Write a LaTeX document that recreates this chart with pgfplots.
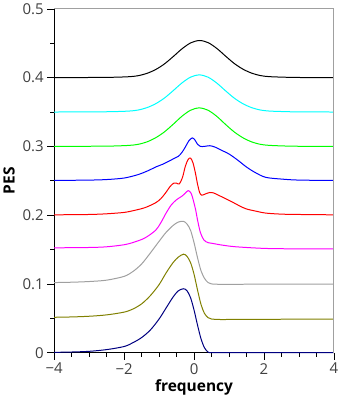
\documentclass[border=0pt]{standalone}
\usepackage{fontspec}
\setmainfont{Open Sans}
\usepackage{pgfplots}
\pgfplotsset{compat=1.18}

\definecolor{tickgray}{HTML}{404040}
\definecolor{framegray}{HTML}{A0A0A0}
\definecolor{cgray}{HTML}{A0A0A0}
\definecolor{cnavy}{HTML}{000080}
\definecolor{colive}{HTML}{808000}
\definecolor{cmag}{RGB}{255,0,255}
\definecolor{ccyan}{RGB}{0,255,255}
\definecolor{cgreen}{RGB}{0,255,0}
\definecolor{cred}{RGB}{255,0,0}
\definecolor{cblue}{RGB}{0,0,255}

\begin{document}
\begin{tikzpicture}
\begin{axis}[
    scale only axis,
    width=279bp, height=343bp,
    xmin=-4, xmax=4,
    ymin=0, ymax=0.5,
    axis lines=left,
    axis line style={-, black, line width=0.8pt},
    tick align=outside,
    major tick length=7bp,
    minor tick length=4bp,
    tick style={black, line width=0.6pt},
    xtick={-4,-2,0,2,4},
    xticklabels={−4,−2,0,2,4},
    minor x tick num=3,
    ytick={0,0.1,0.2,0.3,0.4,0.5},
    yticklabels={0,0.1,0.2,0.3,0.4,0.5},
    minor y tick num=1,
    ticklabel style={font=\fontsize{15}{17}\selectfont, text=tickgray},
    xlabel={\textbf{frequency}},
    ylabel={\textbf{PES}},
    label style={font=\fontsize{15.5}{17}\selectfont},
    xlabel style={yshift=1bp},
    ylabel style={yshift=1bp},
    clip=false,
    every axis plot/.append style={line width=1pt, smooth, tension=0.5},
]

% navy, offset 0
\addplot[cnavy] coordinates {
  (-4,0.0005) (-3.5,0.001) (-3,0.002) (-2.5,0.0045) (-2,0.009) (-1.75,0.0145)
  (-1.5,0.022) (-1.25,0.033) (-1.0,0.049) (-0.8,0.065) (-0.6,0.081)
  (-0.45,0.090) (-0.3,0.093) (-0.2,0.090) (-0.1,0.080) (0.0,0.062)
  (0.1,0.040) (0.2,0.020) (0.3,0.007) (0.4,0.001) (0.5,0.0) (1,0) (2,0) (3,0) (4,0)
};

% olive, offset 0.05
\addplot[colive] coordinates {
  (-4,0.0515) (-3.5,0.052) (-3,0.053) (-2.5,0.055) (-2,0.059) (-1.75,0.0635)
  (-1.5,0.071) (-1.25,0.083) (-1.0,0.099) (-0.8,0.116) (-0.6,0.131)
  (-0.45,0.139) (-0.3,0.1433) (-0.2,0.140) (-0.1,0.131) (0.0,0.114)
  (0.1,0.091) (0.2,0.070) (0.3,0.057) (0.4,0.051) (0.5,0.049) (0.7,0.0483)
  (1.0,0.0483) (2,0.0485) (3,0.0488) (4,0.049)
};

% gray, offset 0.1
\addplot[cgray] coordinates {
  (-4,0.102) (-3.5,0.1025) (-3,0.1035) (-2.5,0.1055) (-2,0.111) (-1.75,0.118)
  (-1.5,0.129) (-1.25,0.145) (-1.0,0.162) (-0.8,0.175) (-0.6,0.185)
  (-0.45,0.190) (-0.3,0.191) (-0.2,0.187) (-0.1,0.178) (0.0,0.160)
  (0.1,0.138) (0.2,0.119) (0.3,0.108) (0.4,0.102) (0.5,0.100) (0.7,0.0995)
  (1,0.0995) (2,0.0996) (3,0.0997) (4,0.0998)
};

% magenta, offset 0.15
\addplot[cmag] coordinates {
  (-4,0.1525) (-3,0.153) (-2.5,0.154) (-2,0.157) (-1.7,0.161) (-1.4,0.167)
  (-1.1,0.178) (-0.95,0.189) (-0.8,0.203) (-0.65,0.215) (-0.5,0.2225)
  (-0.35,0.2275) (-0.25,0.232) (-0.17,0.2357) (-0.1,0.233) (-0.05,0.227)
  (0.04,0.209) (0.1,0.193) (0.18,0.175) (0.28,0.164) (0.4,0.160) (0.52,0.159)
  (0.8,0.1565) (1.2,0.154) (2.05,0.1516) (3,0.151) (4,0.1508)
};

% red, offset 0.2
\addplot[cred] coordinates {
  (-4,0.2005) (-3,0.201) (-2.5,0.202) (-2,0.204) (-1.7,0.207) (-1.4,0.211)
  (-1.1,0.218) (-0.95,0.224) (-0.82,0.232) (-0.68,0.242) (-0.58,0.2465)
  (-0.5,0.2465) (-0.42,0.2455) (-0.33,0.255) (-0.25,0.271) (-0.17,0.281)
  (-0.1,0.283) (-0.03,0.276) (0.04,0.261) (0.1,0.245) (0.16,0.233)
  (0.22,0.229) (0.33,0.231) (0.45,0.233) (0.55,0.2325) (0.7,0.229)
  (0.9,0.224) (1.1,0.219) (1.3,0.2135) (1.5,0.209) (1.8,0.2055)
  (2.05,0.203) (2.5,0.2015) (3,0.201) (4,0.2005)
};

% blue, offset 0.25
\addplot[cblue] coordinates {
  (-4,0.2505) (-3,0.251) (-2.5,0.2518) (-2,0.254) (-1.6,0.259) (-1.3,0.265)
  (-1.1,0.270) (-0.9,0.274) (-0.7,0.279) (-0.55,0.283) (-0.45,0.2855)
  (-0.35,0.291) (-0.25,0.299) (-0.15,0.308) (-0.05,0.3124) (0.03,0.309)
  (0.1,0.303) (0.18,0.300) (0.3,0.300) (0.45,0.301) (0.6,0.299) (0.8,0.294)
  (1.0,0.289) (1.25,0.280) (1.5,0.270) (1.75,0.262) (2.05,0.255)
  (2.5,0.2525) (3,0.251) (4,0.2505)
};

% green, offset 0.3
\addplot[cgreen] coordinates {
  (-4,0.3) (-3,0.3002) (-2.35,0.3005) (-1.85,0.3015) (-1.6,0.303) (-1.35,0.3065)
  (-1.1,0.3125) (-0.85,0.321) (-0.6,0.332) (-0.35,0.3437) (-0.1,0.3526)
  (0.15,0.356) (0.4,0.3526) (0.65,0.3437) (0.9,0.332) (1.15,0.321)
  (1.4,0.3125) (1.65,0.3065) (1.9,0.303) (2.15,0.3015) (2.65,0.3005)
  (3,0.3002) (4,0.3)
};

% cyan, offset 0.35
\addplot[ccyan] coordinates {
  (-4,0.35) (-3,0.3502) (-2.35,0.3505) (-1.85,0.3514) (-1.6,0.3529) (-1.35,0.3563)
  (-1.1,0.362) (-0.85,0.3702) (-0.6,0.3809) (-0.35,0.3921) (-0.1,0.4007)
  (0.15,0.404) (0.4,0.4007) (0.65,0.3921) (0.9,0.3809) (1.15,0.3702)
  (1.4,0.362) (1.65,0.3563) (1.9,0.3529) (2.15,0.3514) (2.65,0.3505)
  (3,0.3502) (4,0.35)
};

% black, offset 0.4
\addplot[black] coordinates {
  (-4,0.4) (-3,0.4002) (-2.34,0.4005) (-1.84,0.4014) (-1.59,0.4029) (-1.34,0.4063)
  (-1.09,0.412) (-0.84,0.4202) (-0.59,0.4309) (-0.34,0.4421) (-0.09,0.4507)
  (0.16,0.454) (0.41,0.4507) (0.66,0.4421) (0.91,0.4309) (1.16,0.4202)
  (1.41,0.412) (1.66,0.4063) (1.91,0.4029) (2.16,0.4014) (2.66,0.4005)
  (3,0.4002) (4,0.4)
};

% grey frame on top and right
\draw[framegray, line width=0.8pt] (rel axis cs:0,1) -- (rel axis cs:1,1) -- (rel axis cs:1,0);
\end{axis}
\end{tikzpicture}
\end{document}
